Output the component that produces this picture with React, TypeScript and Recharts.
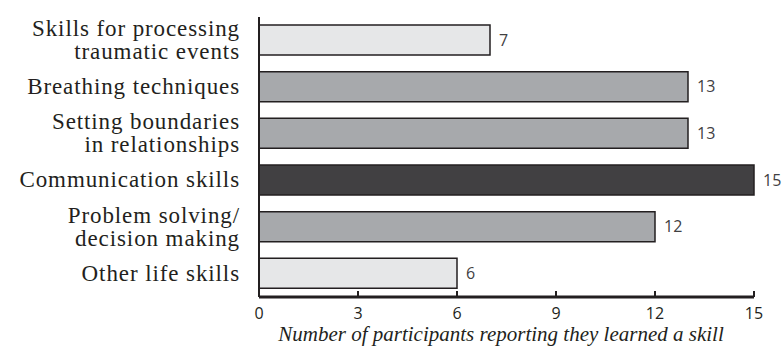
import React from 'react';
import { BarChart, Bar, XAxis, YAxis, Cell, LabelList } from 'recharts';

const skills = [
  'Skills for processing\ntraumatic events',
  'Breathing techniques',
  'Setting boundaries\nin relationships',
  'Communication skills',
  'Problem solving/\ndecision making',
  'Other life skills',
];
const participants = [7, 13, 13, 15, 12, 6];
const shades = ['#e6e7e8', '#a7a9ac', '#a7a9ac', '#414042', '#a7a9ac', '#e6e7e8'];
const xTicks = [0, 3, 6, 9, 12, 15];

const data = skills.map((skill, i) => ({ skill, count: participants[i], fill: shades[i] }));

const INK = '#231f20';
const SERIF = '"Liberation Serif", "Times New Roman", serif';
const SANS = '"Open Sans", "Noto Sans", sans-serif';

const SkillTick = ({ x, y, payload }: any) => {
  const lines = String(payload.value).split('\n');
  const lineH = 23;
  const first = -((lines.length - 1) * lineH) / 2;
  return (
    <text
      x={x - 19}
      y={y}
      textAnchor="end"
      fontFamily={SERIF}
      fontSize={23}
      letterSpacing={0.9}
      fill={INK}
    >
      {lines.map((line, i) => (
        <tspan key={i} x={x - 19} dy={i === 0 ? first + 7 : lineH}>
          {line}
        </tspan>
      ))}
    </text>
  );
};

// ticks sit inside the plot, pointing up from the axis line
const CountTick = ({ x, y, payload }: any) => (
  <g>
    <line x1={x} y1={y} x2={x} y2={y - 6} stroke={INK} strokeWidth={2} />
    <text x={x} y={y + 22} textAnchor="middle" fontFamily={SANS} fontSize={16} fill={INK}>
      {payload.value}
    </text>
  </g>
);

export default function App() {
  return (
    <div style={{ position: 'absolute', left: 0, top: 0, background: '#fff' }}>
      <BarChart
        width={782}
        height={354}
        data={data}
        layout="vertical"
        margin={{ top: 17, right: 28, bottom: 7, left: 0 }}
      >
        <XAxis
          type="number"
          domain={[0, 15]}
          ticks={xTicks}
          interval={0}
          axisLine={{ stroke: INK, strokeWidth: 3 }}
          tickLine={false}
          tickSize={0}
          tickMargin={0}
          tick={<CountTick />}
          height={50}
        />
        <YAxis
          type="category"
          dataKey="skill"
          width={259}
          axisLine={{ stroke: INK, strokeWidth: 2 }}
          tickLine={false}
          tickSize={0}
          tickMargin={0}
          interval={0}
          tick={<SkillTick />}
        />
        <Bar dataKey="count" barSize={30} stroke={INK} strokeWidth={1.5} isAnimationActive={false}>
          {data.map((d, i) => (
            <Cell key={i} fill={d.fill} />
          ))}
          <LabelList
            dataKey="count"
            position="right"
            offset={9}
            fontFamily={SANS}
            fontSize={16}
            fill="#414042"
          />
        </Bar>
        <text
          x={501}
          y={341}
          textAnchor="middle"
          fontFamily={SERIF}
          fontStyle="italic"
          fontSize={21}
          fill={INK}
        >
          Number of participants reporting they learned a skill
        </text>
      </BarChart>
    </div>
  );
}
